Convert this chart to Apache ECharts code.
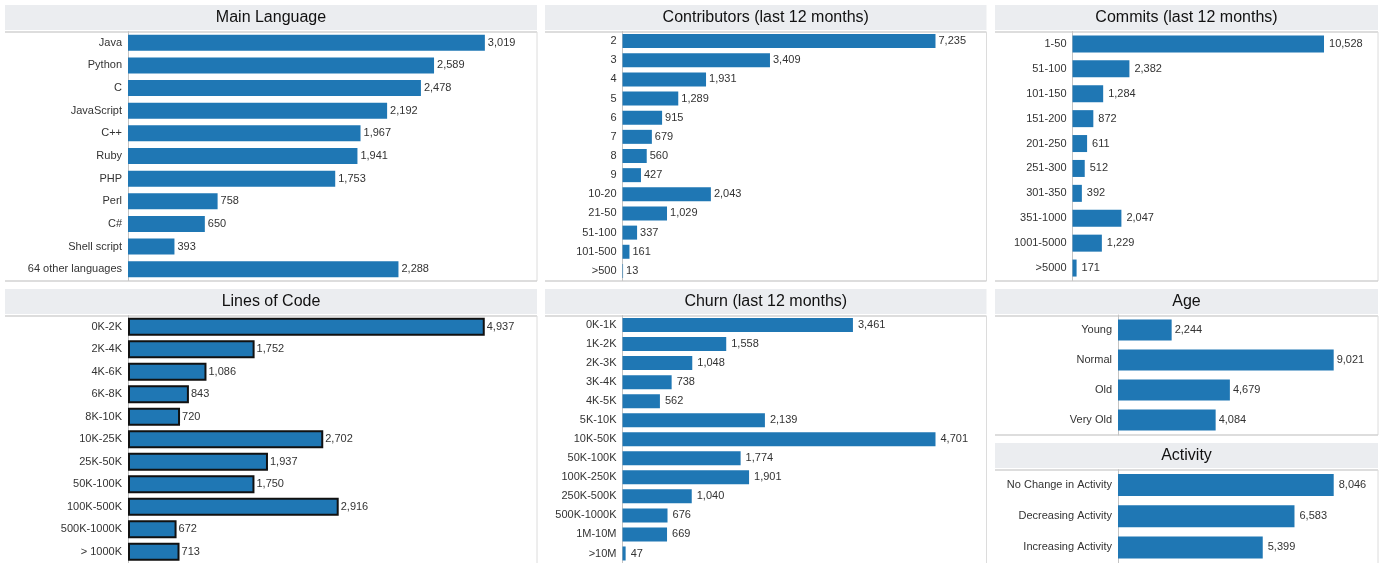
<!DOCTYPE html>
<html><head><meta charset="utf-8">
<script src="https://cdn.jsdelivr.net/npm/echarts@6/dist/echarts.min.js"></script>
<style>html,body{margin:0;padding:0;background:#fff}#c{width:1382px;height:563px}</style>
</head><body><div id="c"></div><script>
// ---- data ----
const langTitle = 'Main Language';
const langCats = ['Java','Python','C','JavaScript','C++','Ruby','PHP','Perl','C#','Shell script','64 other languages'];
const langVals = [3019,2589,2478,2192,1967,1941,1753,758,650,393,2288];

const contribTitle = 'Contributors (last 12 months)';
const contribCats = ['2','3','4','5','6','7','8','9','10-20','21-50','51-100','101-500','>500'];
const contribVals = [7235,3409,1931,1289,915,679,560,427,2043,1029,337,161,13];

const commitTitle = 'Commits (last 12 months)';
const commitCats = ['1-50','51-100','101-150','151-200','201-250','251-300','301-350','351-1000','1001-5000','>5000'];
const commitVals = [10528,2382,1284,872,611,512,392,2047,1229,171];

const locTitle = 'Lines of Code';
const locCats = ['0K-2K','2K-4K','4K-6K','6K-8K','8K-10K','10K-25K','25K-50K','50K-100K','100K-500K','500K-1000K','> 1000K'];
const locVals = [4937,1752,1086,843,720,2702,1937,1750,2916,672,713];

const churnTitle = 'Churn (last 12 months)';
const churnCats = ['0K-1K','1K-2K','2K-3K','3K-4K','4K-5K','5K-10K','10K-50K','50K-100K','100K-250K','250K-500K','500K-1000K','1M-10M','>10M'];
const churnVals = [3461,1558,1048,738,562,2139,4701,1774,1901,1040,676,669,47];

const ageTitle = 'Age';
const ageCats = ['Young','Normal','Old','Very Old'];
const ageVals = [2244,9021,4679,4084];

const actTitle = 'Activity';
const actCats = ['No Change in Activity','Decreasing Activity','Increasing Activity'];
const actVals = [8046,6583,5399];

// ---- layout ----
const FONT = '"Liberation Sans", Arial, sans-serif';
const BLUE = '#1f77b4';
const panels = [
  {title:langTitle, cats:langCats, vals:langVals, px:5, pr:537, hy:5, gl:128, gt:31.5, gh:249, max:3460, bw:16, bottom:281, dist:3},
  {title:contribTitle, cats:contribCats, vals:contribVals, px:545, pr:986.5, hy:5, gl:622.5, gt:31.5, gh:249, max:8414, bw:14, bottom:281, dist:3},
  {title:commitTitle, cats:commitCats, vals:commitVals, px:995, pr:1378, hy:5, gl:1072.5, gt:31.5, gh:249, max:12788, bw:17, bottom:281, dist:5},
  {title:locTitle, cats:locCats, vals:locVals, px:5, pr:537, hy:289, gl:128, gt:315.5, gh:249, max:5660, bw:18, bottom:null, dist:2, border:true},
  {title:churnTitle, cats:churnCats, vals:churnVals, px:545, pr:986.5, hy:289, gl:622.5, gt:315.5, gh:248.5, max:5467, bw:14, bottom:null, dist:5},
  {title:ageTitle, cats:ageCats, vals:ageVals, px:995, pr:1378, hy:289, gl:1118, gt:315, gh:120, max:10874, bw:21, bottom:435, dist:3},
  {title:actTitle, cats:actCats, vals:actVals, px:995, pr:1378, hy:443, gl:1118, gt:469.5, gh:94.5, max:9698, bw:22, bottom:null, dist:5}
];

const grid=[], xAxis=[], yAxis=[], series=[], graphic=[];
panels.forEach((p,i)=>{
  graphic.push({type:'rect', silent:true, shape:{x:p.px, y:p.hy, width:p.pr-p.px, height:25}, style:{fill:'#ebedf0'}, z:0});
  graphic.push({type:'text', silent:true, x:(p.px+p.pr)/2, y:p.hy+13, style:{text:p.title, font:'16px '+FONT, fill:'#111', textAlign:'center', textVerticalAlign:'middle'}});
  const top = p.hy+27;
  graphic.push({type:'line', silent:true, shape:{x1:p.px, y1:top, x2:p.pr, y2:top}, style:{stroke:'#d2d2d2', lineWidth:1.5}});
  const bot = p.bottom==null ? 563 : p.bottom;
  graphic.push({type:'line', silent:true, shape:{x1:p.pr, y1:top, x2:p.pr, y2:bot}, style:{stroke:'#dcdcdc', lineWidth:1}});
  if(p.bottom!=null) graphic.push({type:'line', silent:true, shape:{x1:p.px, y1:p.bottom, x2:p.pr, y2:p.bottom}, style:{stroke:'#d2d2d2', lineWidth:1.5}});
  grid.push({left:p.gl, top:p.gt, width:p.pr-p.gl, height:p.gh, containLabel:false});
  xAxis.push({type:'value', gridIndex:i, min:0, max:p.max, show:false});
  yAxis.push({type:'category', gridIndex:i, data:p.cats, inverse:true,
    axisLine:{show:true, lineStyle:{color:'#c4c4c4', width:1}}, axisTick:{show:false},
    axisLabel:{color:'#333', fontSize:11, fontFamily:FONT, margin:6}});
  series.push({type:'bar', xAxisIndex:i, yAxisIndex:i, data:p.vals, barWidth:p.bw, silent:true,
    itemStyle:p.border ? {color:BLUE, borderColor:'#111', borderWidth:2} : {color:BLUE},
    label:{show:true, position:'right', distance:p.dist, color:'#333', fontSize:11, fontFamily:FONT,
      formatter:(d)=>d.value.toLocaleString('en-US')}});
});

const chart = echarts.init(document.getElementById('c'), null, {renderer:'canvas'});
chart.setOption({animation:false, grid, xAxis, yAxis, series, graphic});
</script></body></html>
